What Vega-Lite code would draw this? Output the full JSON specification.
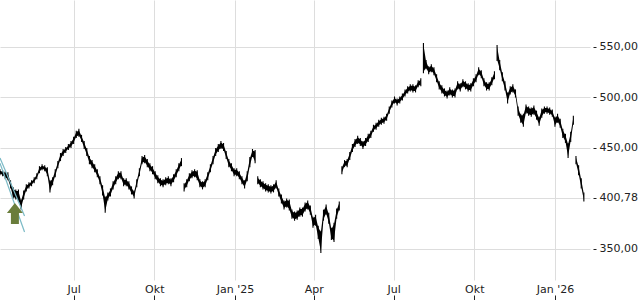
{
  "$schema": "https://vega.github.io/schema/vega-lite/v6.json",
  "width": 590,
  "height": 280,
  "padding": 0,
  "autosize": {"type": "pad"},
  "background": "white",
  "config": {
    "view": {"stroke": null},
    "font": "DejaVu Sans",
    "axis": {"labelFont": "DejaVu Sans", "labelFontSize": 11, "labelColor": "#222222"}
  },
  "datasets": {
    "px": [
        {"d":"2024-04-08","l":423,"h":429,"s":1},{"d":"2024-04-11","l":422,"h":428,"s":1},{"d":"2024-04-14","l":419,"h":427,"s":1},{"d":"2024-04-17","l":418,"h":426,"s":1},
        {"d":"2024-04-20","l":410,"h":418,"s":1},{"d":"2024-04-23","l":400,"h":411,"s":1},{"d":"2024-04-26","l":399,"h":409,"s":1},{"d":"2024-04-29","l":397,"h":409,"s":1},
        {"d":"2024-05-02","l":389,"h":399,"s":1},{"d":"2024-05-05","l":399,"h":408,"s":1},{"d":"2024-05-08","l":407,"h":414,"s":1},{"d":"2024-05-11","l":410,"h":416,"s":1},
        {"d":"2024-05-14","l":412,"h":418,"s":1},{"d":"2024-05-17","l":415,"h":421,"s":1},{"d":"2024-05-20","l":419,"h":425,"s":1},{"d":"2024-05-23","l":425,"h":432,"s":1},
        {"d":"2024-05-26","l":428,"h":434,"s":1},{"d":"2024-05-29","l":427,"h":433,"s":1},{"d":"2024-06-01","l":422,"h":431,"s":1},{"d":"2024-06-04","l":406,"h":418,"s":1},
        {"d":"2024-06-07","l":413,"h":421,"s":1},{"d":"2024-06-10","l":421,"h":429,"s":1},{"d":"2024-06-13","l":430,"h":437,"s":1},{"d":"2024-06-16","l":437,"h":445,"s":1},
        {"d":"2024-06-19","l":442,"h":449,"s":1},{"d":"2024-06-22","l":445,"h":451,"s":1},{"d":"2024-06-25","l":448,"h":454,"s":1},{"d":"2024-06-28","l":450,"h":457,"s":1},
        {"d":"2024-07-01","l":454,"h":461,"s":1},{"d":"2024-07-04","l":460,"h":467,"s":1},{"d":"2024-07-07","l":461,"h":469,"s":1},{"d":"2024-07-10","l":456,"h":463,"s":1},
        {"d":"2024-07-13","l":449,"h":457,"s":1},{"d":"2024-07-16","l":442,"h":450,"s":1},{"d":"2024-07-19","l":434,"h":442,"s":1},{"d":"2024-07-22","l":430,"h":438,"s":1},
        {"d":"2024-07-25","l":426,"h":434,"s":1},{"d":"2024-07-28","l":421,"h":429,"s":1},{"d":"2024-07-31","l":414,"h":422,"s":1},{"d":"2024-08-03","l":403,"h":413,"s":1},
        {"d":"2024-08-06","l":386,"h":402,"s":1},{"d":"2024-08-09","l":398,"h":406,"s":1},{"d":"2024-08-12","l":402,"h":410,"s":1},{"d":"2024-08-15","l":409,"h":417,"s":1},
        {"d":"2024-08-18","l":414,"h":422,"s":1},{"d":"2024-08-21","l":419,"h":427,"s":1},{"d":"2024-08-24","l":419,"h":427,"s":1},{"d":"2024-08-27","l":412,"h":420,"s":1},
        {"d":"2024-08-30","l":412,"h":420,"s":1},{"d":"2024-09-02","l":409,"h":417,"s":1},{"d":"2024-09-05","l":404,"h":412,"s":1},{"d":"2024-09-08","l":400,"h":408,"s":1},
        {"d":"2024-09-11","l":411,"h":419,"s":1},{"d":"2024-09-14","l":422,"h":430,"s":1},{"d":"2024-09-17","l":434,"h":442,"s":1},{"d":"2024-09-20","l":435,"h":443,"s":1},
        {"d":"2024-09-23","l":431,"h":439,"s":1},{"d":"2024-09-26","l":427,"h":435,"s":1},{"d":"2024-09-29","l":424,"h":432,"s":1},{"d":"2024-10-02","l":419,"h":427,"s":1},
        {"d":"2024-10-05","l":415,"h":423,"s":1},{"d":"2024-10-08","l":412,"h":420,"s":1},{"d":"2024-10-11","l":411,"h":419,"s":1},{"d":"2024-10-14","l":413,"h":421,"s":1},
        {"d":"2024-10-17","l":414,"h":422,"s":1},{"d":"2024-10-20","l":412,"h":420,"s":1},{"d":"2024-10-23","l":416,"h":424,"s":1},{"d":"2024-10-26","l":421,"h":429,"s":1},
        {"d":"2024-10-29","l":427,"h":435,"s":1},{"d":"2024-11-01","l":432,"h":440,"s":1},
        {"d":"2024-11-04","l":407,"h":415,"s":2},{"d":"2024-11-07","l":411,"h":419,"s":2},
        {"d":"2024-11-10","l":417,"h":425,"s":2},{"d":"2024-11-13","l":420,"h":428,"s":2},{"d":"2024-11-16","l":421,"h":429,"s":2},{"d":"2024-11-19","l":418,"h":428,"s":2},
        {"d":"2024-11-22","l":411,"h":419,"s":2},{"d":"2024-11-25","l":409,"h":417,"s":2},{"d":"2024-11-28","l":411,"h":419,"s":2},{"d":"2024-12-01","l":418,"h":426,"s":2},
        {"d":"2024-12-04","l":426,"h":434,"s":2},{"d":"2024-12-07","l":434,"h":442,"s":2},{"d":"2024-12-10","l":442,"h":450,"s":2},{"d":"2024-12-13","l":446,"h":454,"s":2},
        {"d":"2024-12-16","l":449,"h":457,"s":2},{"d":"2024-12-19","l":447,"h":455,"s":2},{"d":"2024-12-22","l":439,"h":447,"s":2},{"d":"2024-12-25","l":431,"h":439,"s":2},
        {"d":"2024-12-28","l":427,"h":435,"s":2},{"d":"2024-12-31","l":422,"h":430,"s":2},{"d":"2025-01-03","l":422,"h":430,"s":2},{"d":"2025-01-06","l":419,"h":427,"s":2},
        {"d":"2025-01-09","l":414,"h":422,"s":2},{"d":"2025-01-12","l":410,"h":418,"s":2},{"d":"2025-01-15","l":417,"h":427,"s":2},{"d":"2025-01-18","l":431,"h":441,"s":2},
        {"d":"2025-01-21","l":441,"h":449,"s":2},{"d":"2025-01-24","l":435,"h":448,"s":2},
        {"d":"2025-01-27","l":414,"h":422,"s":3},{"d":"2025-01-30","l":411,"h":419,"s":3},
        {"d":"2025-02-02","l":409,"h":417,"s":3},{"d":"2025-02-05","l":407,"h":415,"s":3},{"d":"2025-02-08","l":406,"h":414,"s":3},{"d":"2025-02-11","l":405,"h":413,"s":3},
        {"d":"2025-02-14","l":406,"h":414,"s":3},{"d":"2025-02-17","l":410,"h":418,"s":3},{"d":"2025-02-20","l":402,"h":410,"s":3},{"d":"2025-02-23","l":395,"h":404,"s":3},
        {"d":"2025-02-26","l":389,"h":398,"s":3},{"d":"2025-03-01","l":391,"h":400,"s":3},{"d":"2025-03-04","l":388,"h":399,"s":3},{"d":"2025-03-07","l":380,"h":389,"s":3},
        {"d":"2025-03-10","l":378,"h":387,"s":3},{"d":"2025-03-13","l":379,"h":388,"s":3},{"d":"2025-03-16","l":382,"h":391,"s":3},{"d":"2025-03-19","l":382,"h":391,"s":3},
        {"d":"2025-03-22","l":387,"h":396,"s":3},{"d":"2025-03-25","l":389,"h":398,"s":3},{"d":"2025-03-28","l":384,"h":393,"s":3},{"d":"2025-03-31","l":371,"h":382,"s":3},
        {"d":"2025-04-03","l":373,"h":384,"s":3},{"d":"2025-04-06","l":360,"h":373,"s":3},{"d":"2025-04-09","l":346,"h":368,"s":3},{"d":"2025-04-12","l":378,"h":389,"s":3},
        {"d":"2025-04-15","l":384,"h":394,"s":3},{"d":"2025-04-18","l":375,"h":386,"s":3},{"d":"2025-04-21","l":359,"h":371,"s":3},{"d":"2025-04-24","l":357,"h":376,"s":3},
        {"d":"2025-04-27","l":380,"h":390,"s":3},{"d":"2025-04-30","l":388,"h":397,"s":3},
        {"d":"2025-05-03","l":424,"h":432,"s":4},{"d":"2025-05-06","l":431,"h":438,"s":4},
        {"d":"2025-05-09","l":431,"h":439,"s":4},{"d":"2025-05-12","l":438,"h":446,"s":4},{"d":"2025-05-15","l":446,"h":454,"s":4},{"d":"2025-05-18","l":451,"h":459,"s":4},
        {"d":"2025-05-21","l":454,"h":462,"s":4},{"d":"2025-05-24","l":452,"h":460,"s":4},{"d":"2025-05-27","l":449,"h":457,"s":4},{"d":"2025-05-30","l":452,"h":460,"s":4},
        {"d":"2025-06-02","l":456,"h":464,"s":4},{"d":"2025-06-05","l":460,"h":467,"s":4},{"d":"2025-06-08","l":466,"h":473,"s":4},{"d":"2025-06-11","l":468,"h":475,"s":4},
        {"d":"2025-06-14","l":471,"h":478,"s":4},{"d":"2025-06-17","l":473,"h":480,"s":4},{"d":"2025-06-20","l":474,"h":481,"s":4},{"d":"2025-06-23","l":477,"h":484,"s":4},
        {"d":"2025-06-26","l":484,"h":491,"s":4},{"d":"2025-06-29","l":490,"h":497,"s":4},{"d":"2025-07-02","l":494,"h":501,"s":4},{"d":"2025-07-05","l":492,"h":499,"s":4},
        {"d":"2025-07-08","l":494,"h":501,"s":4},{"d":"2025-07-11","l":497,"h":504,"s":4},{"d":"2025-07-14","l":501,"h":508,"s":4},{"d":"2025-07-17","l":504,"h":511,"s":4},
        {"d":"2025-07-20","l":506,"h":513,"s":4},{"d":"2025-07-23","l":505,"h":513,"s":4},{"d":"2025-07-26","l":505,"h":512,"s":4},{"d":"2025-07-29","l":510,"h":517,"s":4},
        {"d":"2025-08-01","l":511,"h":519,"s":4},
        {"d":"2025-08-04","l":524,"h":554,"s":5},{"d":"2025-08-07","l":528,"h":537,"s":5},{"d":"2025-08-10","l":523,"h":531,"s":5},
        {"d":"2025-08-13","l":525,"h":533,"s":5},{"d":"2025-08-16","l":522,"h":530,"s":5},{"d":"2025-08-19","l":515,"h":523,"s":5},{"d":"2025-08-22","l":508,"h":516,"s":5},
        {"d":"2025-08-25","l":504,"h":512,"s":5},{"d":"2025-08-28","l":501,"h":509,"s":5},{"d":"2025-08-31","l":499,"h":507,"s":5},{"d":"2025-09-03","l":502,"h":510,"s":5},
        {"d":"2025-09-06","l":500,"h":508,"s":5},{"d":"2025-09-09","l":500,"h":509,"s":5},{"d":"2025-09-12","l":508,"h":516,"s":5},{"d":"2025-09-15","l":506,"h":514,"s":5},
        {"d":"2025-09-18","l":510,"h":518,"s":5},{"d":"2025-09-21","l":508,"h":516,"s":5},{"d":"2025-09-24","l":506,"h":514,"s":5},{"d":"2025-09-27","l":506,"h":514,"s":5},
        {"d":"2025-09-30","l":511,"h":519,"s":5},{"d":"2025-10-03","l":515,"h":523,"s":5},{"d":"2025-10-06","l":522,"h":530,"s":5},{"d":"2025-10-09","l":519,"h":527,"s":5},
        {"d":"2025-10-12","l":511,"h":519,"s":5},{"d":"2025-10-15","l":507,"h":515,"s":5},{"d":"2025-10-18","l":507,"h":515,"s":5},{"d":"2025-10-21","l":512,"h":520,"s":5},
        {"d":"2025-10-24","l":518,"h":526,"s":5},
        {"d":"2025-10-27","l":536,"h":552,"s":6},{"d":"2025-10-30","l":527,"h":537,"s":6},{"d":"2025-11-02","l":516,"h":525,"s":6},
        {"d":"2025-11-05","l":507,"h":516,"s":6},{"d":"2025-11-08","l":494,"h":505,"s":6},{"d":"2025-11-11","l":503,"h":511,"s":6},{"d":"2025-11-14","l":505,"h":513,"s":6},
        {"d":"2025-11-17","l":500,"h":508,"s":6},{"d":"2025-11-20","l":482,"h":491,"s":6},{"d":"2025-11-23","l":475,"h":484,"s":6},{"d":"2025-11-26","l":471,"h":484,"s":6},
        {"d":"2025-11-29","l":484,"h":493,"s":6},{"d":"2025-12-02","l":482,"h":491,"s":6},{"d":"2025-12-05","l":481,"h":490,"s":6},{"d":"2025-12-08","l":483,"h":492,"s":6},
        {"d":"2025-12-11","l":478,"h":487,"s":6},{"d":"2025-12-14","l":472,"h":481,"s":6},{"d":"2025-12-17","l":480,"h":489,"s":6},{"d":"2025-12-20","l":484,"h":491,"s":6},
        {"d":"2025-12-23","l":484,"h":491,"s":6},{"d":"2025-12-26","l":483,"h":490,"s":6},{"d":"2025-12-29","l":481,"h":488,"s":6},{"d":"2026-01-01","l":471,"h":481,"s":6},
        {"d":"2026-01-04","l":475,"h":484,"s":6},{"d":"2026-01-07","l":470,"h":479,"s":6},{"d":"2026-01-10","l":460,"h":469,"s":6},{"d":"2026-01-13","l":455,"h":464,"s":6},
        {"d":"2026-01-16","l":440,"h":455,"s":6},{"d":"2026-01-19","l":456,"h":466,"s":6},{"d":"2026-01-22","l":473,"h":482,"s":6},
        {"d":"2026-01-25","l":434,"h":442,"s":7},
        {"d":"2026-01-28","l":423,"h":433,"s":7},{"d":"2026-01-31","l":410,"h":420,"s":7},{"d":"2026-02-03","l":397,"h":406,"s":7}
    ]
  },
  "resolve": {"axis": {"x": "independent", "y": "independent"}},
  "layer": [
    {
      "data": {"name": "px"},
      "mark": {"type": "rule", "strokeWidth": 1.1, "color": "#000000", "clip": true},
      "encoding": {
        "x": {
          "field": "d", "type": "temporal",
          "scale": {"type": "utc", "nice": false, "domain": [{"year": 2024, "month": 4, "date": 8, "utc": true}, {"year": 2026, "month": 2, "date": 10, "utc": true}]},
          "axis": {
            "orient": "bottom", "title": null, "grid": true, "gridColor": "#dddddd", "domain": false,
            "ticks": true, "tickSize": 20, "tickDash": [0, 15, 5], "tickColor": "#222222", "labelPadding": -17,
            "labelFlush": false, "labelOverlap": false,
            "values": [
              {"year": 2024, "month": 7, "date": 1, "utc": true}, {"year": 2024, "month": 10, "date": 1, "utc": true},
              {"year": 2025, "month": 1, "date": 1, "utc": true}, {"year": 2025, "month": 4, "date": 1, "utc": true},
              {"year": 2025, "month": 7, "date": 1, "utc": true}, {"year": 2025, "month": 10, "date": 1, "utc": true},
              {"year": 2026, "month": 1, "date": 1, "utc": true}
            ],
            "labelExpr": "utcmonth(datum.value)==0 ? \"Jan '\" + utcFormat(datum.value,'%y') : utcmonth(datum.value)==3 ? 'Apr' : utcmonth(datum.value)==6 ? 'Jul' : 'Okt'"
          }
        },
        "y": {
          "field": "l", "type": "quantitative",
          "scale": {"domain": [319.3, 596.5], "nice": false, "zero": false},
          "axis": {
            "orient": "right", "title": null, "grid": true, "gridColor": "#dddddd", "domain": false,
            "values": [350, 400.78, 450, 500, 550], "tickSize": 3, "tickColor": "#222222", "offset": 3, "labelPadding": 3,
            "labelExpr": "replace(format(datum.value,'.2f'),'.',',')"
          }
        },
        "y2": {"field": "h"}
      }
    },
    {
      "data": {"name": "px"},
      "mark": {"type": "area", "color": "#000000", "opacity": 1, "clip": true, "yOffset": -1.5, "y2Offset": 1.5},
      "encoding": {
        "x": {"field": "d", "type": "temporal", "axis": null},
        "y": {"field": "l", "type": "quantitative", "axis": null},
        "y2": {"field": "h"},
        "detail": {"field": "s"}
      }
    },
    {
      "data": {"values": [
        {"id": "a", "d": "2024-04-08", "v": 440},
        {"id": "a", "d": "2024-05-06", "v": 382.7},
        {"id": "b", "d": "2024-04-08", "v": 435},
        {"id": "b", "d": "2024-05-06", "v": 366.8}
      ]},
      "mark": {"type": "line", "color": "#7bbac6", "strokeWidth": 1.2, "clip": true},
      "encoding": {
        "x": {"field": "d", "type": "temporal", "axis": null},
        "y": {"field": "v", "type": "quantitative", "axis": null},
        "detail": {"field": "id"}
      }
    },
    {
      "data": {"values": [{"d": "2024-04-25", "v": 385.1}]},
      "mark": {
        "type": "point", "filled": true, "size": 441, "color": "#6a7d3b", "opacity": 1, "strokeWidth": 0,
        "shape": "M0,-1L0.76,-0.05L0.38,-0.05L0.38,1L-0.38,1L-0.38,-0.05L-0.76,-0.05Z"
      },
      "encoding": {
        "x": {"field": "d", "type": "temporal", "axis": null},
        "y": {"field": "v", "type": "quantitative", "axis": null}
      }
    }
  ]
}
